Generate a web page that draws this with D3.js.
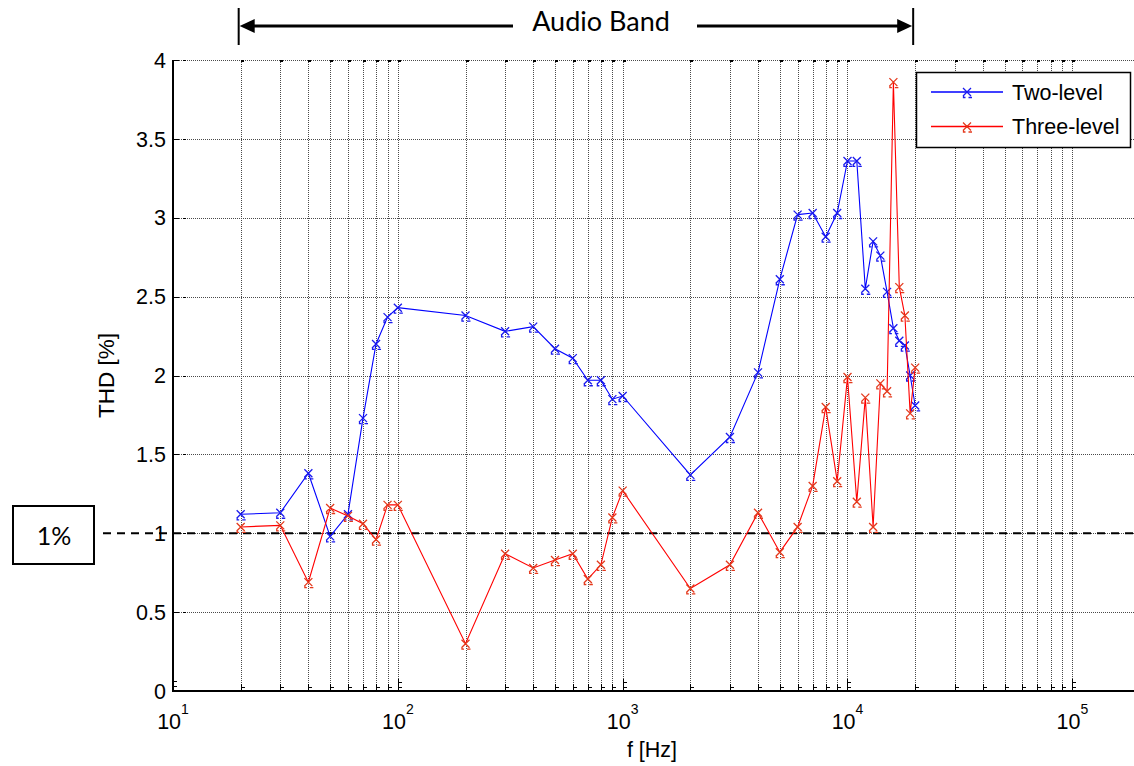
<!DOCTYPE html>
<html>
<head>
<meta charset="utf-8">
<script src="https://cdn.jsdelivr.net/npm/d3@7"></script>
<style>
  body { margin: 0; background: #fff; }
  svg { display: block; }
</style>
</head>
<body>
<svg id="chart" width="1134" height="766"></svg>
<script>
// Measurement frequencies [Hz]
const freqs = [20, 30, 40, 50, 60, 70, 80, 90, 100,
  200, 300, 400, 500, 600, 700, 800, 900, 1000,
  2000, 3000, 4000, 5000, 6000, 7000, 8000, 9000, 10000,
  11000, 12000, 13000, 14000, 15000, 16000, 17000, 18000, 19000, 20000];

// THD [%] of the two-level converter
const twoLevel = [1.12, 1.13, 1.38, 0.98, 1.12, 1.73, 2.20, 2.37, 2.43,
  2.38, 2.28, 2.31, 2.17, 2.11, 1.97, 1.97, 1.85, 1.87,
  1.37, 1.61, 2.02, 2.61, 3.02, 3.03, 2.88, 3.03, 3.36,
  3.36, 2.55, 2.85, 2.76, 2.53, 2.30, 2.22, 2.19, 2.00, 1.81];

// THD [%] of the three-level converter
const threeLevel = [1.04, 1.05, 0.69, 1.16, 1.11, 1.06, 0.96, 1.18, 1.18,
  0.30, 0.87, 0.78, 0.83, 0.87, 0.71, 0.80, 1.10, 1.27,
  0.65, 0.80, 1.13, 0.88, 1.04, 1.30, 1.80, 1.33, 1.99,
  1.20, 1.86, 1.04, 1.95, 1.90, 3.86, 2.56, 2.38, 1.76, 2.05];

const seriesNames = ["Two-level", "Three-level"];
const seriesColors = ["#0000ff", "#ff0000"];
const markerColors = ["#1a1aee", "#e4391c"];
const yTicks = [0, 0.5, 1, 1.5, 2, 2.5, 3, 3.5, 4];
const xDecades = [10, 100, 1000, 10000, 100000];
const bandEdges = [20, 20000];
const bandLabel = "Audio Band";
const limitLevel = 1;
const limitLabel = "1%";

const svg = d3.select("#chart");
const FONT = "'Liberation Sans', Arial, sans-serif";
const CAL = "Lato, 'Open Sans', sans-serif";

const plotL = 173, plotT = 60, plotB = 691, plotR = 1140;
const x = d3.scaleLog().domain([10, 2e5]).range([plotL, plotR]);
const y = d3.scaleLinear().domain([0, 4]).range([plotB, plotT]);

const minorTicks = x.ticks().filter(f => f > 10 && f <= 100000);

// grid
const grid = svg.append("g").attr("shape-rendering", "crispEdges");
grid.selectAll("line.v").data(minorTicks).join("line")
  .attr("x1", d => Math.round(x(d)) + 0.5).attr("x2", d => Math.round(x(d)) + 0.5)
  .attr("y1", plotT).attr("y2", plotB)
  .attr("stroke", "#4a4a4a").attr("stroke-width", 1).attr("stroke-dasharray", "1,1");
grid.selectAll("line.h").data(yTicks.filter(v => v > 0)).join("line")
  .attr("x1", plotL).attr("x2", plotR)
  .attr("y1", d => Math.round(y(d)) + 0.5).attr("y2", d => Math.round(y(d)) + 0.5)
  .attr("stroke", "#4a4a4a").attr("stroke-width", 1).attr("stroke-dasharray", "1,1");

// axis lines
const axes = svg.append("g").attr("shape-rendering", "crispEdges");
axes.append("line").attr("x1", plotL).attr("x2", plotL).attr("y1", plotT).attr("y2", plotB + 1)
  .attr("stroke", "#000").attr("stroke-width", 1.5);
axes.append("line").attr("x1", plotL).attr("x2", plotR).attr("y1", plotB).attr("y2", plotB)
  .attr("stroke", "#000").attr("stroke-width", 1.5);

// bottom and top tick marks
minorTicks.forEach(f => {
  const px = Math.round(x(f)) + 0.5;
  const major = xDecades.includes(f);
  axes.append("line").attr("x1", px).attr("x2", px).attr("y1", major ? 679 : 684).attr("y2", plotB)
    .attr("stroke", "#000").attr("stroke-width", 1);
  axes.append("line").attr("x1", px).attr("x2", px + 3).attr("y1", 687.5).attr("y2", 687.5)
    .attr("stroke", "#000").attr("stroke-width", 1);
  if (major) axes.append("line").attr("x1", px).attr("x2", px + 3).attr("y1", 682.5).attr("y2", 682.5)
    .attr("stroke", "#000").attr("stroke-width", 1);
  axes.append("line").attr("x1", px - 1).attr("x2", px + 2).attr("y1", plotT + 1).attr("y2", plotT + 1)
    .attr("stroke", "#000").attr("stroke-width", 2);
});
axes.append("line").attr("x1", plotL).attr("x2", plotL + 4).attr("y1", 681.5).attr("y2", 681.5)
  .attr("stroke", "#000");
axes.append("line").attr("x1", plotL).attr("x2", plotL + 4).attr("y1", 686.5).attr("y2", 686.5)
  .attr("stroke", "#000");

// left tick marks
yTicks.forEach(v => {
  const py = Math.round(y(v)) + 0.5;
  axes.append("line").attr("x1", plotL).attr("x2", plotL + 6).attr("y1", py).attr("y2", py)
    .attr("stroke", "#000").attr("stroke-width", 1);
  axes.append("line").attr("x1", plotL + 10).attr("x2", plotL + 13).attr("y1", py).attr("y2", py)
    .attr("stroke", "#000").attr("stroke-width", 1.5);
});

// y tick labels
svg.append("g").selectAll("text").data(yTicks).join("text")
  .attr("x", 166).attr("y", d => y(d)).attr("dy", "0.36em")
  .attr("text-anchor", "end").attr("font-family", FONT).attr("font-size", 21.5)
  .text(d => d3.format("")(d));

// x tick labels with exponents
const xl = svg.append("g").selectAll("text").data(xDecades).join("text")
  .attr("x", d => x(d)).attr("y", 729)
  .attr("text-anchor", "middle").attr("font-family", FONT).attr("font-size", 21.5);
xl.append("tspan").text("10");
xl.append("tspan").attr("font-size", 14).attr("dy", -15).text(d => Math.round(Math.log10(d)));

// axis titles
svg.append("text").attr("x", 652).attr("y", 757).attr("text-anchor", "middle")
  .attr("font-family", FONT).attr("font-size", 21.5).text("f [Hz]");
svg.append("text").attr("transform", `translate(114,${(plotT + plotB) / 2}) rotate(-90)`)
  .attr("text-anchor", "middle").attr("font-family", FONT).attr("font-size", 22.5).text("THD [%]");

// 1% reference line and box
svg.append("line").attr("x1", 103).attr("x2", plotR).attr("y1", y(limitLevel)).attr("y2", y(limitLevel))
  .attr("stroke", "#000").attr("stroke-width", 2).attr("stroke-dasharray", "8,6");
svg.append("rect").attr("x", 13).attr("y", 506).attr("width", 81).attr("height", 58)
  .attr("fill", "#fff").attr("stroke", "#000").attr("stroke-width", 2);
svg.append("text").attr("x", 54).attr("y", 545).attr("text-anchor", "middle")
  .attr("font-family", CAL).attr("font-size", 25).text(limitLabel);

// series
const markerPath = "M-4,-4L4,4M-4,4L4,-4M1.5,5.5h3.5M-3.5,3.5v2h2";
const series = [twoLevel, threeLevel];
series.forEach((vals, i) => {
  const pts = freqs.map((f, j) => [f, vals[j]]);
  svg.append("path").datum(pts)
    .attr("d", d3.line().x(d => x(d[0])).y(d => y(d[1])))
    .attr("fill", "none").attr("stroke", seriesColors[i]).attr("stroke-width", 1.1);
  svg.append("g").selectAll("path").data(pts).join("path")
    .attr("transform", d => `translate(${x(d[0])},${y(d[1])})`)
    .attr("d", markerPath).attr("fill", "none")
    .attr("stroke", markerColors[i]).attr("stroke-width", 1.3);
});

// legend
const lg = svg.append("g");
lg.append("rect").attr("x", 916.5).attr("y", 72.5).attr("width", 214).attr("height", 75)
  .attr("fill", "#fff").attr("stroke", "#000").attr("stroke-width", 1.5);
seriesNames.forEach((name, i) => {
  const ly = 92 + i * 34.5;
  lg.append("line").attr("x1", 931).attr("x2", 1003).attr("y1", ly).attr("y2", ly)
    .attr("stroke", seriesColors[i]).attr("stroke-width", 1.5);
  lg.append("path").attr("transform", `translate(967,${ly})`).attr("d", markerPath)
    .attr("fill", "none").attr("stroke", markerColors[i]).attr("stroke-width", 1.3);
  lg.append("text").attr("x", 1012).attr("y", ly).attr("dy", "0.36em")
    .attr("font-family", FONT).attr("font-size", 21.5).text(name);
});

// audio band annotation
const bx0 = x(bandEdges[0]) - 2, bx1 = x(bandEdges[1]) - 2, by = 26;
const ann = svg.append("g");
[bx0, bx1].forEach(bx => ann.append("line").attr("x1", bx).attr("x2", bx).attr("y1", 8).attr("y2", 45)
  .attr("stroke", "#000").attr("stroke-width", 2));
ann.append("line").attr("x1", bx0 + 10).attr("x2", 513).attr("y1", by).attr("y2", by)
  .attr("stroke", "#000").attr("stroke-width", 3);
ann.append("line").attr("x1", 697).attr("x2", bx1 - 10).attr("y1", by).attr("y2", by)
  .attr("stroke", "#000").attr("stroke-width", 3);
ann.append("path").attr("d", `M${bx0 + 1},${by}L${bx0 + 16},${by - 7}L${bx0 + 16},${by + 7}Z`).attr("fill", "#000");
ann.append("path").attr("d", `M${bx1 - 1},${by}L${bx1 - 16},${by - 7}L${bx1 - 16},${by + 7}Z`).attr("fill", "#000");
ann.append("text").attr("x", 601).attr("y", 31).attr("text-anchor", "middle")
  .attr("font-family", CAL).attr("font-size", 27).text(bandLabel);
</script>
</body>
</html>
